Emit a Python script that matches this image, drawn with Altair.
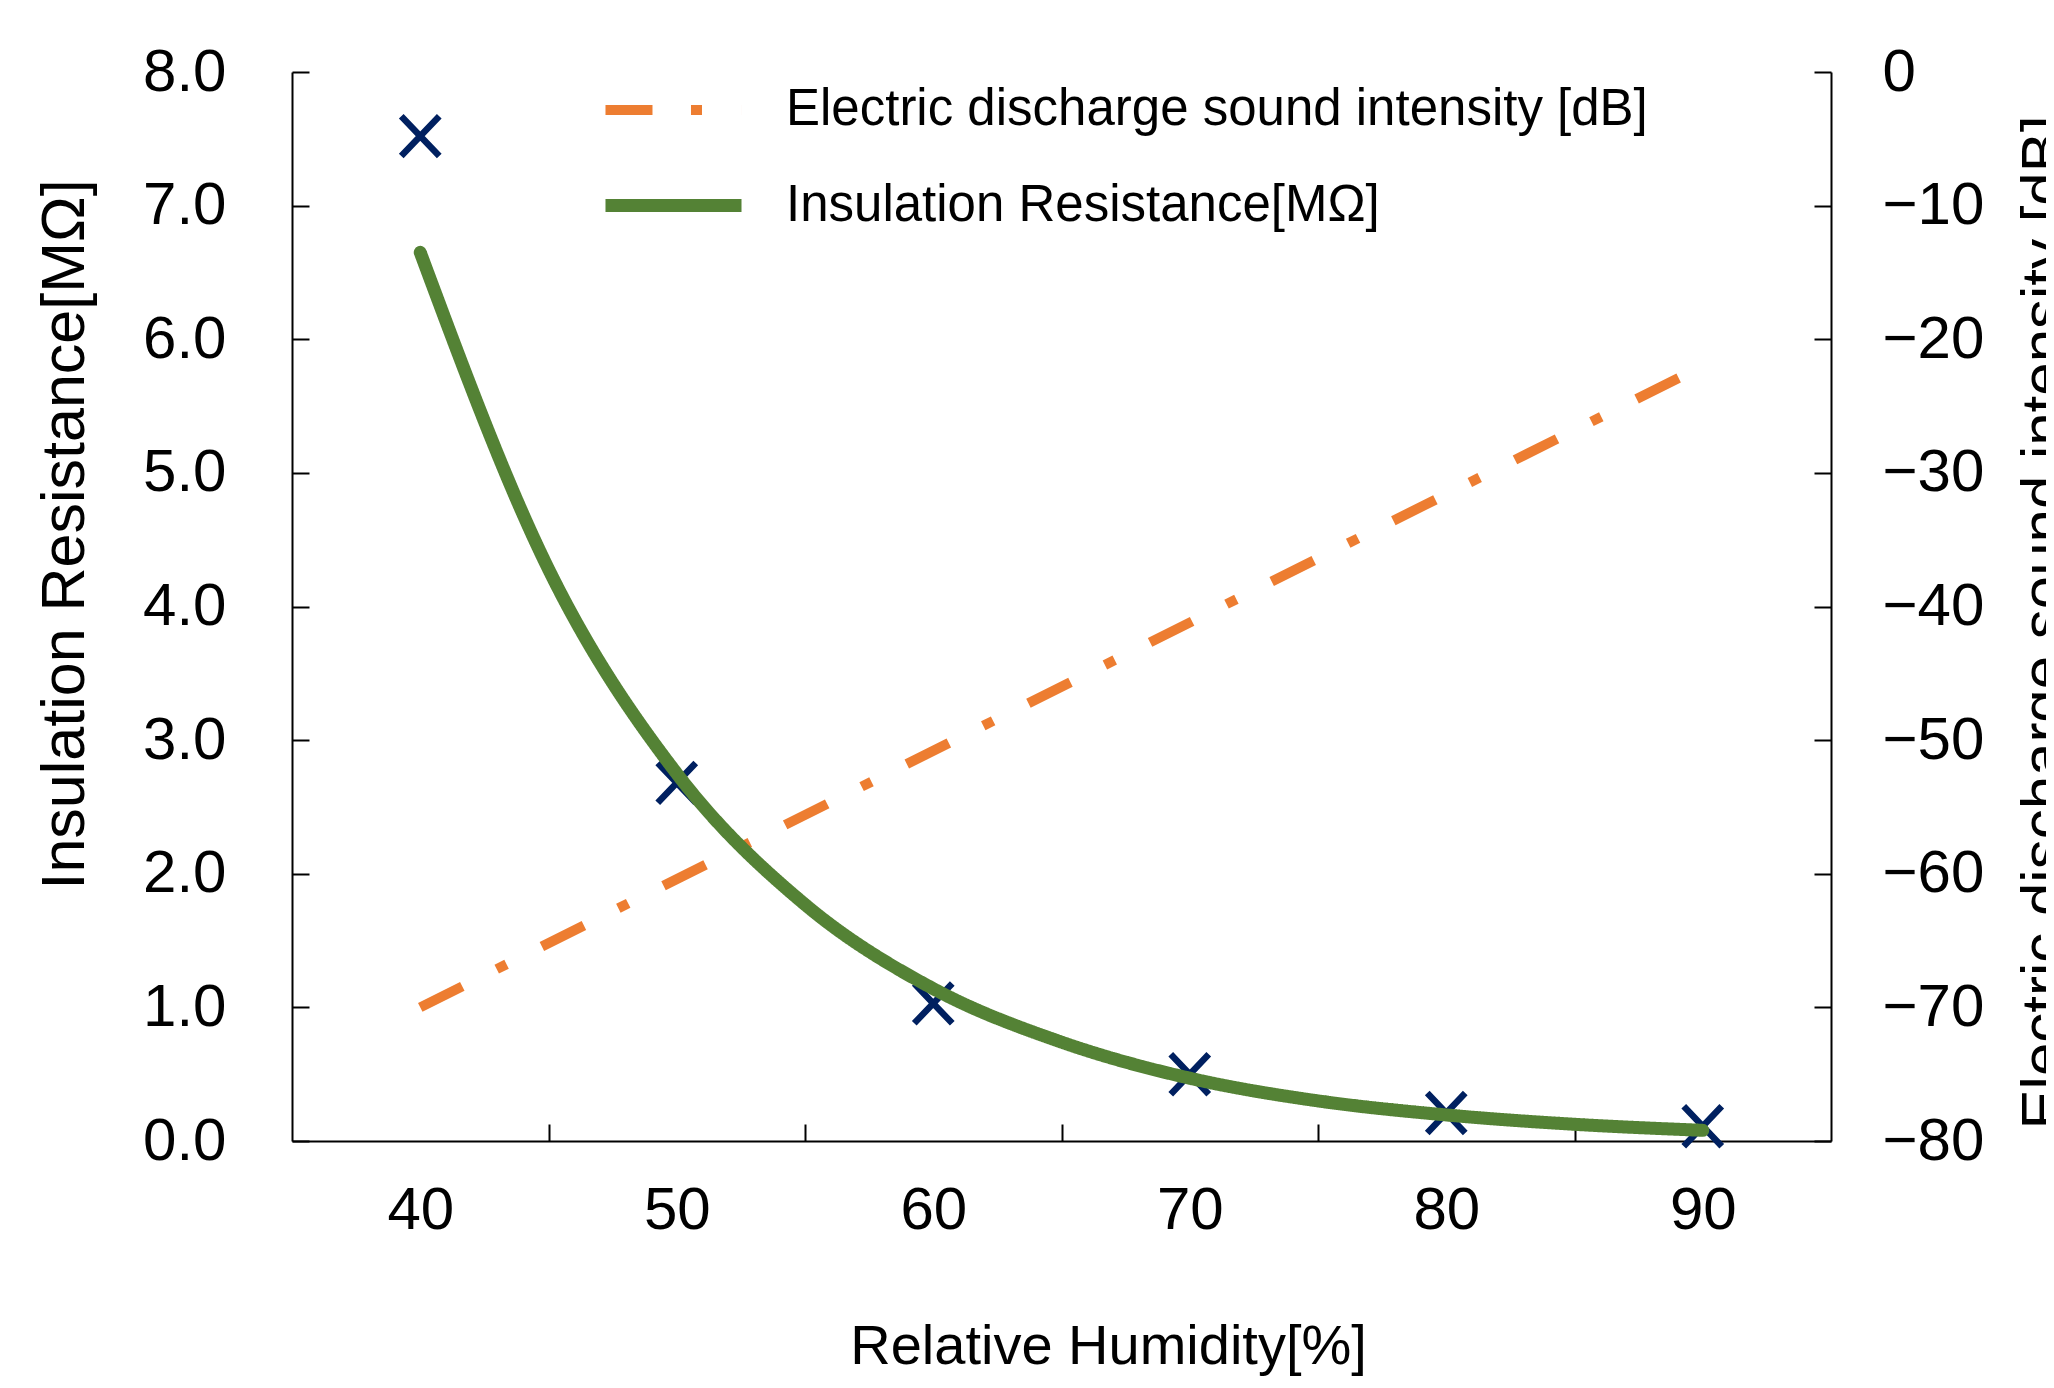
import altair as alt
import pandas as pd

# ---- data ----
humidity_pts = [40, 50, 60, 70, 80, 90]
resistance_pts = [7.52, 2.68, 1.03, 0.50, 0.21, 0.11]

curve_x = [40, 45, 50, 55, 60, 65, 70, 75, 80, 85, 90]
curve_y = [6.65, 4.28, 2.75, 1.77, 1.14, 0.74, 0.47, 0.30, 0.195, 0.125, 0.08]

sound_x = [40, 90]
sound_db = [-70, -22]

series_names = ["Electric discharge sound intensity [dB]", "Insulation Resistance[MΩ]"]
series_colors = ["#ED7D31", "#548235"]
series_dash = [[47, 38.5, 11, 39.5], [1, 0]]
series_width = [10, 13]

x_labels = [40, 50, 60, 70, 80, 90]
x_ticks = [45, 55, 65, 75, 85]
left_ticks = [0, 1, 2, 3, 4, 5, 6, 7, 8]
right_ticks = [-80, -70, -60, -50, -40, -30, -20, -10, 0]

W, H = 1539, 1069
NARROW = "Liberation Sans Narrow, Liberation Sans, Arial"
REG = "Liberation Sans, Arial"

pts = pd.DataFrame({"h": humidity_pts, "r": resistance_pts})
curve = pd.DataFrame({"h": curve_x, "r": curve_y, "series": series_names[1]})
sound = pd.DataFrame({"h": sound_x, "db": sound_db, "series": series_names[0]})

xs = alt.Scale(domain=[35, 95], nice=False, zero=False)
yl = alt.Scale(domain=[0, 8], nice=False, zero=False)
yr = alt.Scale(domain=[-80, 0], nice=False, zero=False)

leg = alt.Legend(
    title=None, orient="none", legendX=345, legendY=3,
    symbolType="M-2.267,0H2.267", symbolSize=3600,
    labelFont=NARROW, labelFontSize=51, labelColor="black",
    labelOffset=76, rowPadding=34, padding=0, labelLimit=0,
    symbolFillColor="transparent",
)
color = alt.Color("series:N", scale=alt.Scale(domain=series_names, range=series_colors), legend=leg)
dash = alt.StrokeDash("series:N", scale=alt.Scale(domain=series_names, range=series_dash), legend=leg)
sw = alt.StrokeWidth("series:N", scale=alt.Scale(domain=series_names, range=series_width), legend=leg)

no_ticks = dict(ticks=False, tickSize=0, grid=False, domainColor="black", domainWidth=2,
                labelColor="black", labelFont=NARROW, labelFontSize=60,
                labelOverlap=False, labelFlush=False, titleColor="black", titleFontWeight="normal")

tick_only = dict(ticks=True, tickSize=17, tickWidth=2, tickColor="black", labels=False,
                 domain=False, grid=False, title=None)

orange = alt.Chart(sound).mark_line(strokeCap="butt").encode(
    x=alt.X("h:Q", scale=xs, axis=None),
    y=alt.Y("db:Q", scale=yr, axis=alt.Axis(
        orient="right", values=right_ticks, format="d", labelPadding=51,
        title="Electric discharge sound intensity [dB]", titleFont=REG, titleFontSize=60,
        titleAngle=270, titleX=213, titleY=550, titleAlign="center", titleBaseline="middle",
        **no_ticks)),
    color=color, strokeDash=dash, strokeWidth=sw,
)

crosses = alt.Chart(pts).mark_point(
    shape="M-1,-1.05L1,1.05M-1,1.05L1,-1.05", filled=False, size=1444,
    strokeWidth=6.5, color="#002060", opacity=1,
).encode(
    x=alt.X("h:Q", scale=xs, axis=None),
    y=alt.Y("r:Q", scale=yl, axis=None),
)

green = alt.Chart(curve).mark_line(strokeCap="round", interpolate="monotone").encode(
    x=alt.X("h:Q", scale=xs, axis=alt.Axis(
        orient="bottom", values=x_labels, labelPadding=40,
        title="Relative Humidity[%]", titleFont=NARROW, titleFontSize=56,
        titleX=816, titleY=205, titleAlign="center", titleBaseline="middle",
        **no_ticks)),
    y=alt.Y("r:Q", scale=yl, axis=alt.Axis(
        orient="left", values=left_ticks, format=".1f", labelPadding=66,
        title="Insulation Resistance[MΩ]", titleFont=REG, titleFontSize=61,
        titleAngle=270, titleX=-227, titleY=462, titleAlign="center", titleBaseline="middle",
        **no_ticks)),
    color=color, strokeDash=dash, strokeWidth=sw,
)

left_tick_layer = alt.Chart(pts).mark_point(opacity=0).encode(
    x=alt.X("h:Q", scale=xs, axis=None),
    y=alt.Y("r:Q", scale=yl, axis=alt.Axis(orient="right", offset=-W, values=left_ticks, **tick_only)),
)

right_tick_layer = alt.Chart(sound).mark_point(opacity=0).encode(
    x=alt.X("h:Q", scale=xs, axis=None),
    y=alt.Y("db:Q", scale=yr, axis=alt.Axis(orient="left", offset=-W, values=right_ticks, **tick_only)),
)

x_tick_layer = alt.Chart(pts).mark_point(opacity=0).encode(
    x=alt.X("h:Q", scale=xs, axis=alt.Axis(orient="top", offset=-H, values=x_ticks, **tick_only)),
    y=alt.Y("r:Q", scale=yl, axis=None),
)

chart = alt.layer(
    orange, crosses, green, left_tick_layer, right_tick_layer, x_tick_layer
).resolve_scale(
    y="independent"
).resolve_axis(
    x="independent", y="independent"
).properties(
    width=W, height=H,
    autosize=alt.AutoSizeParams(type="none"),
    padding={"left": 284, "top": 64, "right": 215, "bottom": 239},
    background="white",
).configure_view(stroke=None)

chart.save("out.html", embed_options={"renderer": "svg", "actions": False})
